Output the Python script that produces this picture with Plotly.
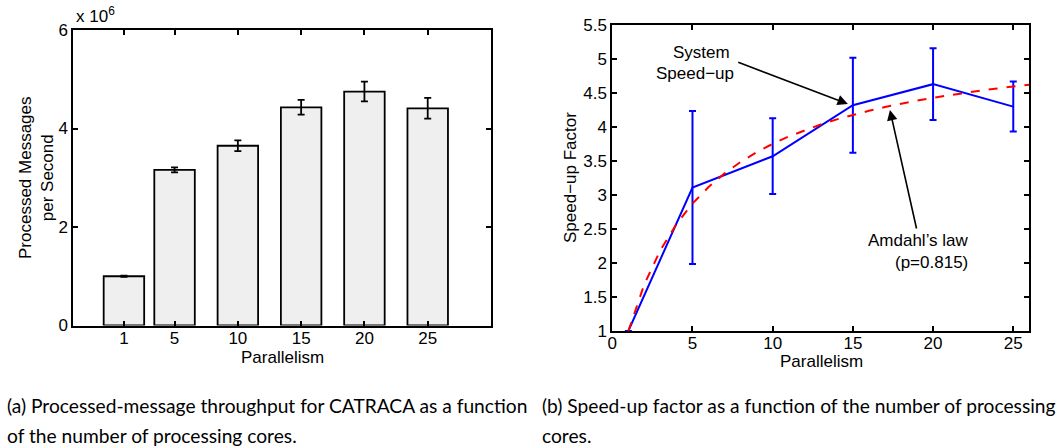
import plotly.graph_objects as go

# ---- data: left chart (throughput) ----
parallelism = [1, 5, 10, 15, 20, 25]
throughput = [1.00e6, 3.16e6, 3.65e6, 4.43e6, 4.75e6, 4.41e6]
throughput_err = [0.01e6, 0.05e6, 0.11e6, 0.15e6, 0.20e6, 0.21e6]
left_yticks = [0, 2e6, 4e6, 6e6]
left_yticklabels = ["0", "2", "4", "6"]

# ---- data: right chart (speed-up) ----
speedup_x = [1, 5, 10, 15, 20, 25]
speedup = [1.0, 3.11, 3.57, 4.32, 4.63, 4.30]
speedup_err = [0.0, 1.125, 0.557, 0.70, 0.527, 0.368]
amdahl_x = list(range(1, 27))
amdahl_y = [1.000, 1.688, 2.190, 2.572, 2.874, 3.117, 3.318, 3.486, 3.629, 3.752,
            3.860, 3.954, 4.037, 4.112, 4.178, 4.238, 4.293, 4.343, 4.388, 4.430,
            4.468, 4.503, 4.537, 4.567, 4.596, 4.622]
right_xticks = [0, 5, 10, 15, 20, 25]
right_yticks = [1, 1.5, 2, 2.5, 3, 3.5, 4, 4.5, 5, 5.5]
right_yticklabels = ["1", "1.5", "2", "2.5", "3", "3.5", "4", "4.5", "5", "5.5"]

W, H = 1058, 448
FONT = "Liberation Sans, Arial, Helvetica, sans-serif"

def px_x(p):
    return p / W

def px_y(p):
    return 1 - p / H

fig = go.Figure()

fig.add_trace(go.Bar(
    x=parallelism, y=throughput, width=3.2,
    marker=dict(color="#efefef", line=dict(color="black", width=1.8)),
    error_y=dict(type="data", array=throughput_err, color="black", thickness=1.8, width=3.5),
    xaxis="x", yaxis="y", showlegend=False,
))

fig.add_trace(go.Scatter(
    x=speedup_x, y=speedup, mode="lines",
    line=dict(color="#0000ff", width=2),
    error_y=dict(type="data", array=speedup_err, color="#0000ff", thickness=2, width=3.5),
    xaxis="x2", yaxis="y2", showlegend=False, cliponaxis=False,
))
fig.add_trace(go.Scatter(
    x=amdahl_x, y=amdahl_y, mode="lines",
    line=dict(color="#ff0000", width=2, dash="dash"),
    xaxis="x2", yaxis="y2", showlegend=False,
))

axis_common = dict(
    showline=True, linecolor="black", linewidth=2, mirror="ticks",
    ticks="inside", ticklen=5, tickwidth=1.5, tickcolor="black",
    showgrid=False, zeroline=False, automargin=False,
    tickfont=dict(family=FONT, size=17, color="black"),
)

fig.update_layout(
    width=W, height=H,
    margin=dict(l=0, r=0, t=0, b=0, autoexpand=False),
    paper_bgcolor="white", plot_bgcolor="white",
    font=dict(family=FONT, size=17, color="black"),
    xaxis=dict(axis_common, domain=[px_x(73.3), px_x(491)], range=[-3, 30],
               tickvals=parallelism, ticktext=[str(v) for v in parallelism], anchor="y",
               ticklabelstandoff=-4),
    yaxis=dict(axis_common, domain=[px_y(325.5), px_y(30)], range=[0, 6e6],
               tickvals=left_yticks, ticktext=left_yticklabels, anchor="x"),
    xaxis2=dict(axis_common, domain=[px_x(612.3), px_x(1029.3)], range=[0, 26],
                tickvals=right_xticks, ticktext=[str(v) for v in right_xticks], anchor="y2",
                ticklabelstandoff=-4),
    yaxis2=dict(axis_common, domain=[px_y(331), px_y(25)], range=[1, 5.5],
                tickvals=right_yticks, ticktext=right_yticklabels, anchor="x2"),
)

ann = []
# left chart texts
ann.append(dict(xref="paper", yref="paper", x=px_x(74), y=px_y(28), xanchor="left", yanchor="bottom",
                text="x 10<sup>6</sup>", showarrow=False, font=dict(family=FONT, size=17)))
ann.append(dict(xref="paper", yref="paper", x=px_x(36), y=px_y(178), xanchor="center", yanchor="middle",
                text="Processed Messages<br>per Second", textangle=-90, showarrow=False,
                font=dict(family=FONT, size=17)))
ann.append(dict(xref="paper", yref="paper", x=px_x(282), y=px_y(357), xanchor="center", yanchor="middle",
                text="Parallelism", showarrow=False, font=dict(family=FONT, size=17)))
# right chart texts
ann.append(dict(xref="paper", yref="paper", x=px_x(570), y=px_y(178), xanchor="center", yanchor="middle",
                text="Speed\u2212up Factor", textangle=-90, showarrow=False, font=dict(family=FONT, size=17)))
ann.append(dict(xref="paper", yref="paper", x=px_x(821), y=px_y(361), xanchor="center", yanchor="middle",
                text="Parallelism", showarrow=False, font=dict(family=FONT, size=17)))
ann.append(dict(xref="paper", yref="paper", x=px_x(701), y=px_y(52), xanchor="center", yanchor="middle",
                text="System", showarrow=False, font=dict(family=FONT, size=17)))
ann.append(dict(xref="paper", yref="paper", x=px_x(695), y=px_y(73), xanchor="center", yanchor="middle",
                text="Speed\u2212up", showarrow=False, font=dict(family=FONT, size=17)))
ann.append(dict(xref="paper", yref="paper", x=px_x(918), y=px_y(240), xanchor="center", yanchor="middle",
                text="Amdahl\u2019s law", showarrow=False, font=dict(family=FONT, size=17)))
ann.append(dict(xref="paper", yref="paper", x=px_x(931), y=px_y(262), xanchor="center", yanchor="middle",
                text="(p=0.815)", showarrow=False, font=dict(family=FONT, size=17)))
# arrows
ann.append(dict(xref="x2", yref="y2", axref="x2", ayref="y2", x=14.69, y=4.34, ax=7.76, ay=4.96,
                text="", showarrow=True, arrowhead=2, arrowsize=1.3, arrowwidth=1.6, arrowcolor="black"))
ann.append(dict(xref="x2", yref="y2", axref="x2", ayref="y2", x=17.31, y=4.25, ax=18.99, ay=2.485,
                text="", showarrow=True, arrowhead=2, arrowsize=1.3, arrowwidth=1.6, arrowcolor="black"))
# captions
CAP = "Lato, sans-serif"
caps = [
    (5, 405.7, "(a) Processed-message throughput for CATRACA as a function"),
    (5, 435, "of the number of processing cores."),
    (540, 405.7, "(b) Speed-up factor as a function of the number of processing"),
    (540, 435, "cores."),
]
for cx, cy, ct in caps:
    ann.append(dict(xref="paper", yref="paper", x=px_x(cx), y=px_y(cy), xanchor="left", yanchor="middle",
                    text=ct, showarrow=False, font=dict(family=CAP, size=19.2, color="black")))

fig.update_layout(annotations=ann)
fig.write_html("out.html", config={"displayModeBar": False},
               post_script="document.body.style.margin='0';document.body.style.overflow='hidden';")
